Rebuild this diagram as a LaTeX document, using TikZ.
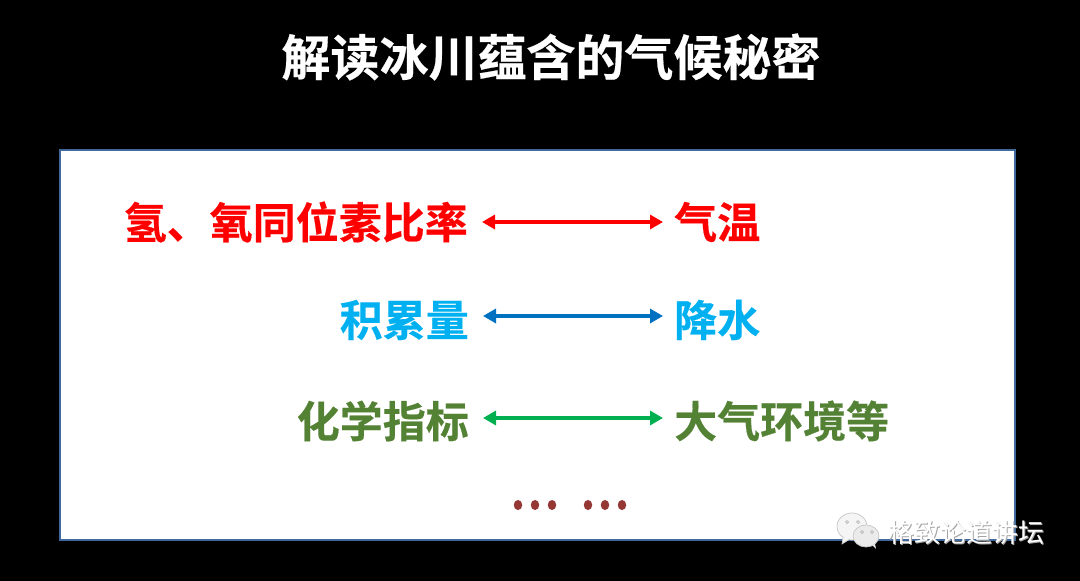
\documentclass[tikz,border=0pt]{standalone}
\usepackage{fontspec}
\usepackage{xcolor}
\setmainfont{Noto Sans CJK SC}
\newfontfamily\boldcjk[FakeBold=0.4]{Noto Sans CJK SC Bold}
\definecolor{FrameBlue}{RGB}{65, 105, 155}
\definecolor{TempRed}{RGB}{255, 0, 0}
\definecolor{SnowBlue}{RGB}{0, 176, 240}
\definecolor{SnowArrow}{RGB}{0, 112, 192}
\definecolor{ChemGreen}{RGB}{84, 130, 53}
\definecolor{ChemArrow}{RGB}{0, 176, 80}
\definecolor{DotRed}{RGB}{149, 55, 53}
\usetikzlibrary{arrows.meta, positioning, shapes.geometric}

\begin{document}
\begin{tikzpicture}[
        x=1pt, y=-1pt,
        word/.style={inner sep=0pt, font=\fontsize{43}{43}\boldcjk},
        markword/.style={inner sep=0pt, font=\fontsize{26}{26}\selectfont},
        arrow/.style={{Triangle[length=13pt, width=14pt]}-{Triangle[length=13pt, width=14pt]}, line width=3.6pt, shorten <=14pt, shorten >=11pt},
        dot/.style={ellipse, fill=DotRed, inner sep=0pt, minimum width=8.5pt, minimum height=10pt},
        bubble/.style={draw=gray!45, line width=0.7pt}
    ]
        % Background
        \path[use as bounding box, fill=black] (0,0) rectangle (1080,581);
        \node[draw=FrameBlue, line width=2pt, fill=white, inner sep=0pt, minimum width=955pt, minimum height=390pt] (frame) at (537.5,345) {};
        \node[inner sep=0pt, text=white, font=\fontsize{49}{49}\boldcjk] (title) at (551,57) {解读冰川蕴含的气候秘密};
        
        % Nodes
        \node[word, text=TempRed, anchor=east] (ratio) at (468,222) {氢、氧同位素比率};
        \node[word, text=TempRed, right=206pt of ratio] (temp) {气温};
        \node[word, text=SnowBlue, anchor=east] (snow) at (469,320) {积累量};
        \node[word, text=SnowBlue, right=205pt of snow] (rain) {降水};
        \node[word, text=ChemGreen, anchor=east] (chem) at (469,421) {化学指标};
        \node[word, text=ChemGreen, right=205pt of chem] (air) {大气环境等};
        
        % Connections
        \draw[arrow, TempRed] (ratio.east) -- (temp.west);
        \draw[arrow, SnowArrow] ([yshift=4pt]snow.east) -- ([yshift=4pt]rain.west);
        \draw[arrow, ChemArrow] ([yshift=3pt]chem.east) -- ([yshift=3pt]air.west);
        
        % Dots
        \foreach \x in {518, 535, 552, 588, 605, 622} {
            \node[dot] (dot\x) at (\x,505) {};
        }
        
        % Watermark
        \draw[bubble, fill=white!96!black] (852,526.5) ellipse (15pt and 13.5pt);
        \draw[bubble, fill=white!96!black] (843,537) -- (842,544) -- (850,539);
        \draw[bubble, fill=white!92!black] (866,536) ellipse (13pt and 11pt);
        \fill[white!92!black] (872,545) -- (876,549) -- (875,544) -- cycle;
        \foreach \x/\y in {847/522, 858/522, 862/532, 872/532} {
            \draw[gray!60, line width=0.7pt] (\x,\y) circle (1.5pt);
        }
        \node[markword, text=gray!70] (markshade) at (967,534) {格致论道讲坛};
        \node[markword, text=white] (mark) at (966,533) {格致论道讲坛};
    \end{tikzpicture}
\end{document}
